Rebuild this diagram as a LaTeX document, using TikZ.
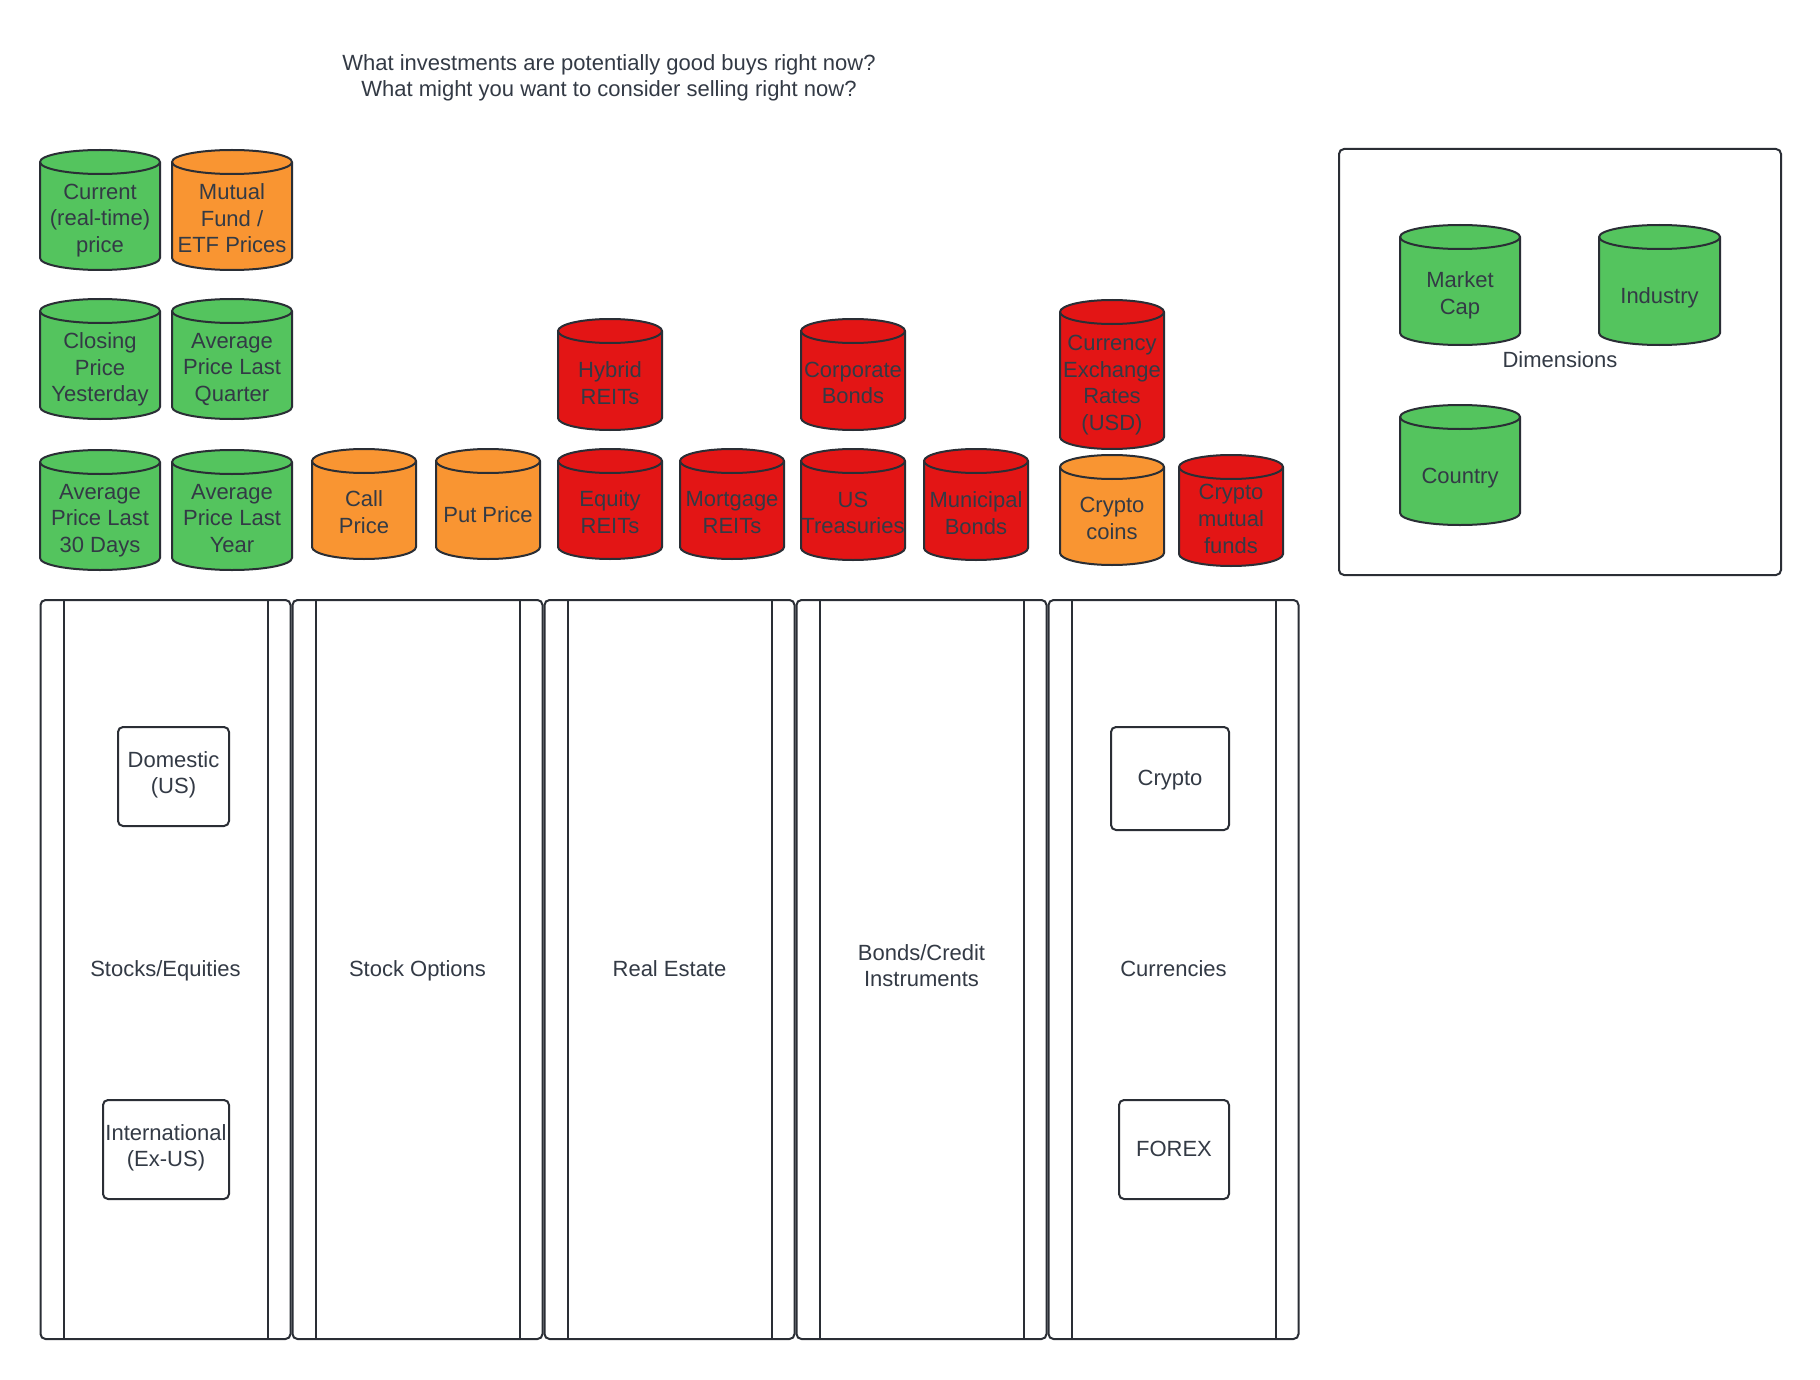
\documentclass[tikz,border=0pt]{standalone}
\usepackage{fontspec}
\setmainfont{Liberation Sans}
\definecolor{cgreen}{HTML}{54C45E}
\definecolor{corange}{HTML}{F99532}
\definecolor{cred}{HTML}{E31515}
\definecolor{ink}{HTML}{333A45}
\definecolor{edge}{HTML}{2A2E35}
\newcommand\lstrut{\rule[-5.5pt]{0pt}{26.7pt}}
\tikzset{
  outl/.style={draw=edge, line width=2pt},
  lbl/.style={text=ink, font=\fontsize{22}{26.7}\selectfont, align=center, inner sep=0pt,
    execute at begin node=\lstrut, execute at end node=\lstrut},
  lanebox/.style={outl, rectangle, rounded corners=5pt, minimum width=250pt, minimum height=739pt, lbl,
    execute at begin node=\strut, execute at end node=\strut},
  itembox/.style={outl, rectangle, rounded corners=5pt, lbl,
    execute at begin node=\strut, execute at end node=\strut},
}
\newcommand\dbcyl[7]{%
  \pgfmathsetmacro\cxr{(#3-#2)/2}%
  \pgfmathsetmacro\cxc{(#2+#3)/2}%
  \pgfmathsetmacro\cyc{-(#4+22+#5)/2}%
  \filldraw[fill=#6, outl] (#2,-#4-12) -- (#2,-#5+12) arc[start angle=180,end angle=360,x radius=\cxr,y radius=12] -- (#3,-#4-12) arc[start angle=0,end angle=180,x radius=\cxr,y radius=12] -- cycle;
  \draw[outl] (#2,-#4-12) arc[start angle=180,end angle=360,x radius=\cxr,y radius=12];
  \node[lbl] (#1) at (\cxc,\cyc) {#7};
}
\begin{document}
\begin{tikzpicture}[x=1pt,y=1pt]
\fill[white] (0,0) rectangle (1820,-1380);
\useasboundingbox (0,0) rectangle (1820,-1380);

% title
\node[lbl, font=\fontsize{22}{26.5}\selectfont] (title) at (609,-78.5) {What investments are potentially good buys right now?\\What might you want to consider selling right now?};

% price cylinders
\dbcyl{cur}{40}{160}{150}{270}{cgreen}{Current\\(real-time)\\price}
\dbcyl{mf}{172}{292}{150}{270}{corange}{Mutual\\Fund /\\ETF Prices}
\dbcyl{close}{40}{160}{299}{419}{cgreen}{Closing\\Price\\Yesterday}
\dbcyl{avgq}{172}{292}{299}{419}{cgreen}{Average\\Price Last\\Quarter}
\dbcyl{avgm}{40}{160}{450}{570}{cgreen}{Average\\Price Last\\30 Days}
\dbcyl{avgy}{172}{292}{450}{570}{cgreen}{Average\\Price Last\\Year}

\dbcyl{call}{312}{416}{449}{559}{corange}{Call\\Price}
\dbcyl{put}{436}{540}{449}{559}{corange}{Put Price}
\dbcyl{hyb}{558}{662}{319}{430}{cred}{Hybrid\\REITs}
\dbcyl{eqr}{558}{662}{449}{559}{cred}{Equity\\REITs}
\dbcyl{mort}{680}{784}{449}{559}{cred}{Mortgage\\REITs}
\dbcyl{corp}{801}{905}{319}{430}{cred}{Corporate\\Bonds}
\dbcyl{ust}{801}{905}{449}{560}{cred}{US\\Treasuries}
\dbcyl{muni}{924}{1028}{449}{560}{cred}{Municipal\\Bonds}
\dbcyl{fx}{1060}{1164}{300}{449}{cred}{Currency\\Exchange\\Rates\\(USD)}
\dbcyl{coins}{1060}{1164}{455}{565}{corange}{Crypto\\coins}
\dbcyl{cmf}{1179}{1283}{455}{566}{cred}{Crypto\\mutual\\funds}

% dimensions
\node[outl, rectangle, rounded corners=5pt, minimum width=442pt, minimum height=426pt] (dims) at (1560,-362) {};
\dbcyl{mcap}{1400}{1520}{225}{345}{cgreen}{Market\\Cap}
\dbcyl{ind}{1599}{1720}{225}{345}{cgreen}{Industry}
\dbcyl{ctry}{1400}{1520}{405}{525}{cgreen}{Country}
\node[lbl] (dimlbl) at (1560,-360) {Dimensions};

% lanes
\node[lanebox] (stocks) at (165.5,-969.5) {Stocks/Equities};
\node[lanebox] (options) at (417.5,-969.5) {Stock Options};
\node[lanebox] (realestate) at (669.5,-969.5) {Real Estate};
\node[lanebox] (bonds) at (921.5,-969.5) {Bonds/Credit\\Instruments};
\node[lanebox] (currencies) at (1173.5,-969.5) {Currencies};
\foreach \l in {stocks,options,realestate,bonds,currencies}{
  \draw[outl] ([xshift=24pt]\l.north west) -- ([xshift=24pt]\l.south west);
  \draw[outl] ([xshift=-24pt]\l.north east) -- ([xshift=-24pt]\l.south east);
}

% boxes inside lanes
\node[itembox, minimum width=111pt, minimum height=99pt] (dom) at (173.5,-776.5) {Domestic\\(US)};
\node[itembox, minimum width=126pt, minimum height=99pt] (intl) at (166,-1149.5) {International\\(Ex-US)};
\node[itembox, minimum width=118pt, minimum height=103pt] (crypto) at (1170,-778.5) {Crypto};
\node[itembox, minimum width=110pt, minimum height=99pt] (forex) at (1174,-1149.5) {FOREX};
\end{tikzpicture}
\end{document}
